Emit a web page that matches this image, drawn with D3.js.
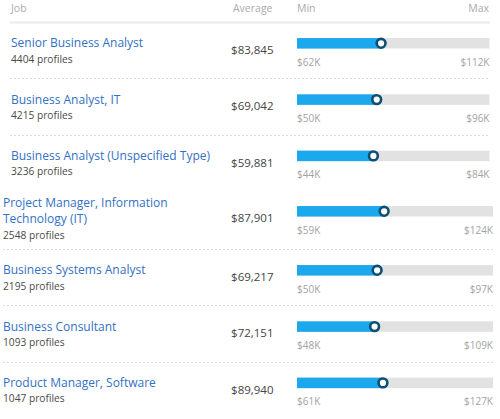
<!DOCTYPE html>
<html><head><meta charset="utf-8">
<script src="https://cdn.jsdelivr.net/npm/d3@7"></script>
<style>
html,body{margin:0;padding:0;background:#fff;}
svg{display:block;font-family:"Open Sans",sans-serif;}
</style></head>
<body>
<svg id="c" width="500" height="419"></svg>
<script>
const jobs = ["Senior Business Analyst", "Business Analyst, IT", "Business Analyst (Unspecified Type)", "Project Manager, Information Technology (IT)", "Business Systems Analyst", "Business Consultant", "Product Manager, Software"];
const profiles = [4404, 4215, 3236, 2548, 2195, 1093, 1047];
const averages = [83845, 69042, 59881, 87901, 69217, 72151, 89940];
const mins = [62000, 50000, 44000, 59000, 50000, 48000, 61000];
const maxs = [112000, 96000, 84000, 124000, 97000, 109000, 127000];
const groups = [0, 0, 0, 1, 1, 1, 1];
const headers = ["Job", "Average", "Min", "Max"];

const svg = d3.select("#c");
const fmtAvg = d3.format("$,.0f");
const fmtK = v => "$" + d3.format(",.0f")(v / 1000) + "K";

// group geometry
const G = [{left: 11, right: 489.5, lineL: 10, lineR: 490}, {left: 3, right: 493, lineL: 3, lineR: 493}];
const avgX = 273.5, barX0 = 297, barH = 10.5;

// header
svg.append("text").attr("x", 11).attr("y", 12).attr("font-size", 10.5).attr("fill", "#ababab").text(headers[0]);
svg.append("text").attr("x", avgX - 1).attr("y", 12).attr("text-anchor", "end").attr("font-size", 10.5).attr("fill", "#ababab").text(headers[1]);
svg.append("text").attr("x", barX0).attr("y", 12).attr("font-size", 10.5).attr("fill", "#ababab").text(headers[2]);
svg.append("text").attr("x", 489).attr("y", 12).attr("text-anchor", "end").attr("font-size", 10.5).attr("fill", "#ababab").text(headers[3]);
svg.append("line").attr("x1", 10).attr("x2", 490).attr("y1", 22.5).attr("y2", 22.5).attr("stroke", "#ececec").attr("stroke-width", 2);

// wrap helper
function wrapLines(text, maxW, size) {
  const t = svg.append("text").attr("font-size", size).attr("visibility", "hidden");
  const words = text.split(" ");
  const lines = [];
  let cur = "";
  for (const w of words) {
    const test = cur ? cur + " " + w : w;
    t.text(test);
    if (t.node().getComputedTextLength() > maxW && cur) { lines.push(cur); cur = w; }
    else cur = test;
  }
  lines.push(cur);
  t.remove();
  return lines;
}

const nameSize = 12, lineH = 16;
let y = 22;
jobs.forEach((job, i) => {
  const g = G[groups[i]];
  if (i === 3) y = 182;
  const lines = wrapLines(job, 205, nameSize);
  const top = y;
  const row = svg.append("g");
  lines.forEach((ln, k) => {
    row.append("text").attr("x", g.left).attr("y", top + 21 + k * lineH).attr("dy", "0.35em")
      .attr("font-size", nameSize).attr("fill", "#3371c4").text(ln);
  });
  const profY = top + 37.3 + (lines.length - 1) * lineH;
  row.append("text").attr("x", g.left).attr("y", profY).attr("dy", "0.35em")
    .attr("font-size", 10.2).attr("fill", "#4a4a4a").text(profiles[i] + " profiles");
  const mid = top + 28 + (lines.length - 1) * 8;
  row.append("text").attr("x", avgX).attr("y", mid).attr("dy", "0.35em").attr("text-anchor", "end")
    .attr("font-size", 11.5).attr("fill", "#444").text(fmtAvg(averages[i]));

  const x = d3.scaleLinear().domain([mins[i], maxs[i]]).range([barX0, g.right]);
  const by = mid - 6.7;
  row.append("rect").attr("x", x(mins[i])).attr("y", by - barH / 2).attr("width", x(maxs[i]) - x(mins[i])).attr("height", barH).attr("fill", "#e2e2e2");
  row.append("rect").attr("x", x(mins[i])).attr("y", by - barH / 2).attr("width", x(averages[i]) - x(mins[i])).attr("height", barH).attr("fill", "#1ba8ec");
  row.append("circle").attr("cx", x(averages[i])).attr("cy", by).attr("r", 4.4).attr("fill", "#fff").attr("stroke", "#0c4f72").attr("stroke-width", 2.6);
  row.append("text").attr("x", x(mins[i])).attr("y", mid + 12).attr("dy", "0.35em").attr("font-size", 10).attr("fill", "#a3a3a3").text(fmtK(mins[i]));
  row.append("text").attr("x", x(maxs[i])).attr("y", mid + 12).attr("dy", "0.35em").attr("text-anchor", "end").attr("font-size", 10).attr("fill", "#a3a3a3").text(fmtK(maxs[i]));

  const h = lines.length > 1 ? 67 : 56.3;
  y = top + h;
  const last = i === jobs.length - 1 || groups[i + 1] !== groups[i];
  if (!last) {
    svg.append("line").attr("x1", g.lineL).attr("x2", g.lineR).attr("y1", Math.round(y) + 0.5).attr("y2", Math.round(y) + 0.5)
      .attr("stroke", "#dcdcdc").attr("stroke-dasharray", "2,2");
  }
});
</script>
</body></html>
